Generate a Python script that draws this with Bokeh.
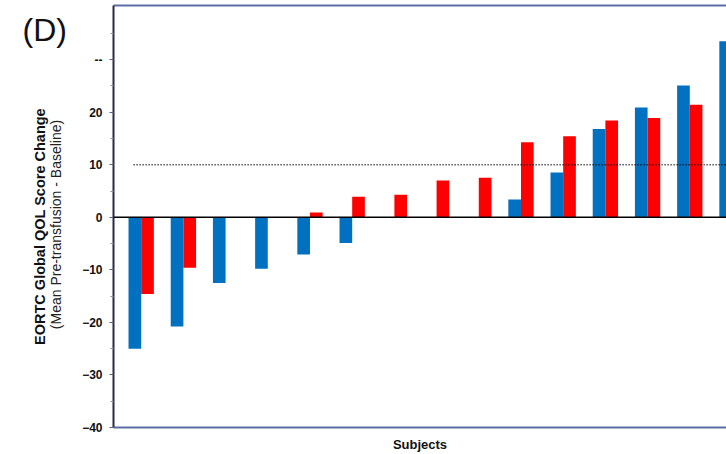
import math

from bokeh.embed import file_html
from bokeh.layouts import row
from bokeh.models import (ColumnDataSource, FixedTicker, Label, LinearAxis,
                          Range1d, Span)
from bokeh.plotting import figure
from bokeh.resources import INLINE

# Per-subject change in EORTC global QOL score (two measurements per subject)
subjects = list(range(1, 16))
blue_change = [-25.0, -20.8, -12.5, -9.8, -7.1, -4.9, math.nan, math.nan, math.nan,
               3.4, 8.5, 16.8, 20.9, 25.1, 33.5]
red_change = [-14.6, -9.6, math.nan, math.nan, 0.9, 3.9, 4.3, 7.0, 7.5,
              14.3, 15.4, 18.4, 18.9, 21.4, math.nan]
threshold = 10

tick_values = [-40, -30, -20, -10, 0, 10, 20, 30]
tick_labels = ["\u221240", "\u221230", "\u221220", "\u221210", "0", "10", "20", "--"]
minor_values = [-35, -25, -15, -5, 5, 15, 25, 35]

BAR_W = 0.3
X0, X1 = 0.344, 14.87
Y0, Y1 = -40, 40.3
FONT = "Liberation Sans"
FRAME_COL = "#5b6fa6"
H = 454
SIDE_W = 75

src = ColumnDataSource(dict(
    xb=[s - BAR_W / 2 for s in subjects],
    xr=[s + BAR_W / 2 for s in subjects],
    blue=blue_change,
    red=red_change,
))

# ---- side strip holding the panel letter and the y title ----
side = figure(width=SIDE_W, height=H, output_backend="svg", toolbar_location=None,
              x_range=Range1d(0, SIDE_W), y_range=Range1d(0, H),
              x_axis_location=None, y_axis_location=None,
              min_border=0, min_border_left=0, min_border_right=0,
              min_border_top=0, min_border_bottom=0)
side.outline_line_color = None
side.grid.visible = False
side.background_fill_color = "white"
side.border_fill_color = "white"


def side_label(x, y, text, size, bold=False, angle=0.0, align="center", color="#111111"):
    # x, y in pixels from the strip frame's lower-left corner (frame bottom sits at 427)
    side.add_layout(Label(x=x, y=y, x_units="screen", y_units="screen", text=text,
                          angle=angle, text_align=align, text_baseline="middle",
                          text_font=FONT, text_font_style="bold" if bold else "normal",
                          text_font_size=size, text_color=color))


side_label(39, 201, "EORTC Global QOL Score Change", "14.5px", bold=True, angle=math.pi / 2)
side_label(55.5, 203, "(Mean Pre-transfusion - Baseline)", "14px", angle=math.pi / 2,
           color="#222222")
side_label(22, 398, "(D)", "32px", align="left")

# ---- main bar chart ----
p = figure(width=726 - SIDE_W, height=H, output_backend="svg", toolbar_location=None,
           x_range=Range1d(X0, X1), y_range=Range1d(Y0, Y1),
           min_border_left=113 - SIDE_W, min_border_right=0, min_border_top=5,
           min_border_bottom=27)
p.outline_line_color = None
p.xgrid.visible = False
p.ygrid.visible = False
p.background_fill_color = "white"
p.border_fill_color = "white"

p.vbar(x="xb", top="blue", bottom=0, width=BAR_W, source=src,
       fill_color="#0070C0", line_color=None)
p.vbar(x="xr", top="red", bottom=0, width=BAR_W, source=src,
       fill_color="#FF0000", line_color=None)

# zero line and the dotted reference line at +10
p.add_layout(Span(location=0, dimension="width", line_color="black", line_width=1.5))
p.segment(x0=[0.82], y0=[threshold], x1=[X1 + 1], y1=[threshold],
          line_color="black", line_width=1.6, line_dash="1 2")

# left axis: ticks and tick labels
ya = p.yaxis[0]
ya.ticker = FixedTicker(ticks=tick_values, minor_ticks=minor_values)
ya.major_label_overrides = {v: t for v, t in zip(tick_values, tick_labels)}
ya.axis_line_color = "#262c44"
ya.axis_line_width = 2
ya.major_tick_in = 0
ya.major_tick_out = 4
ya.minor_tick_in = 0
ya.minor_tick_out = 3
ya.major_tick_line_color = "#5a6280"
ya.minor_tick_line_color = "#8a92ad"
ya.major_label_standoff = 7
ya.major_label_text_font = FONT
ya.major_label_text_font_style = "bold"
ya.major_label_text_font_size = "12px"
ya.major_label_text_color = "#111111"

# bottom axis: plain line with its title
xa = p.xaxis[0]
xa.ticker = FixedTicker(ticks=[])
xa.axis_line_color = FRAME_COL
xa.axis_line_width = 2
xa.major_tick_out = 0
xa.minor_tick_out = 0
xa.major_label_standoff = 0
xa.axis_label = "Subjects"
xa.axis_label_text_font = FONT
xa.axis_label_text_font_style = "bold"
xa.axis_label_text_font_size = "13px"
xa.axis_label_text_color = "#111111"
xa.axis_label_standoff = 9

# top border
top = LinearAxis(ticker=FixedTicker(ticks=[]), axis_line_color=FRAME_COL,
                 axis_line_width=2, major_tick_out=0, minor_tick_out=0,
                 major_label_standoff=0)
p.add_layout(top, "above")

layout = row(side, p, spacing=0)
open("out.html", "w").write(file_html(layout, INLINE))
